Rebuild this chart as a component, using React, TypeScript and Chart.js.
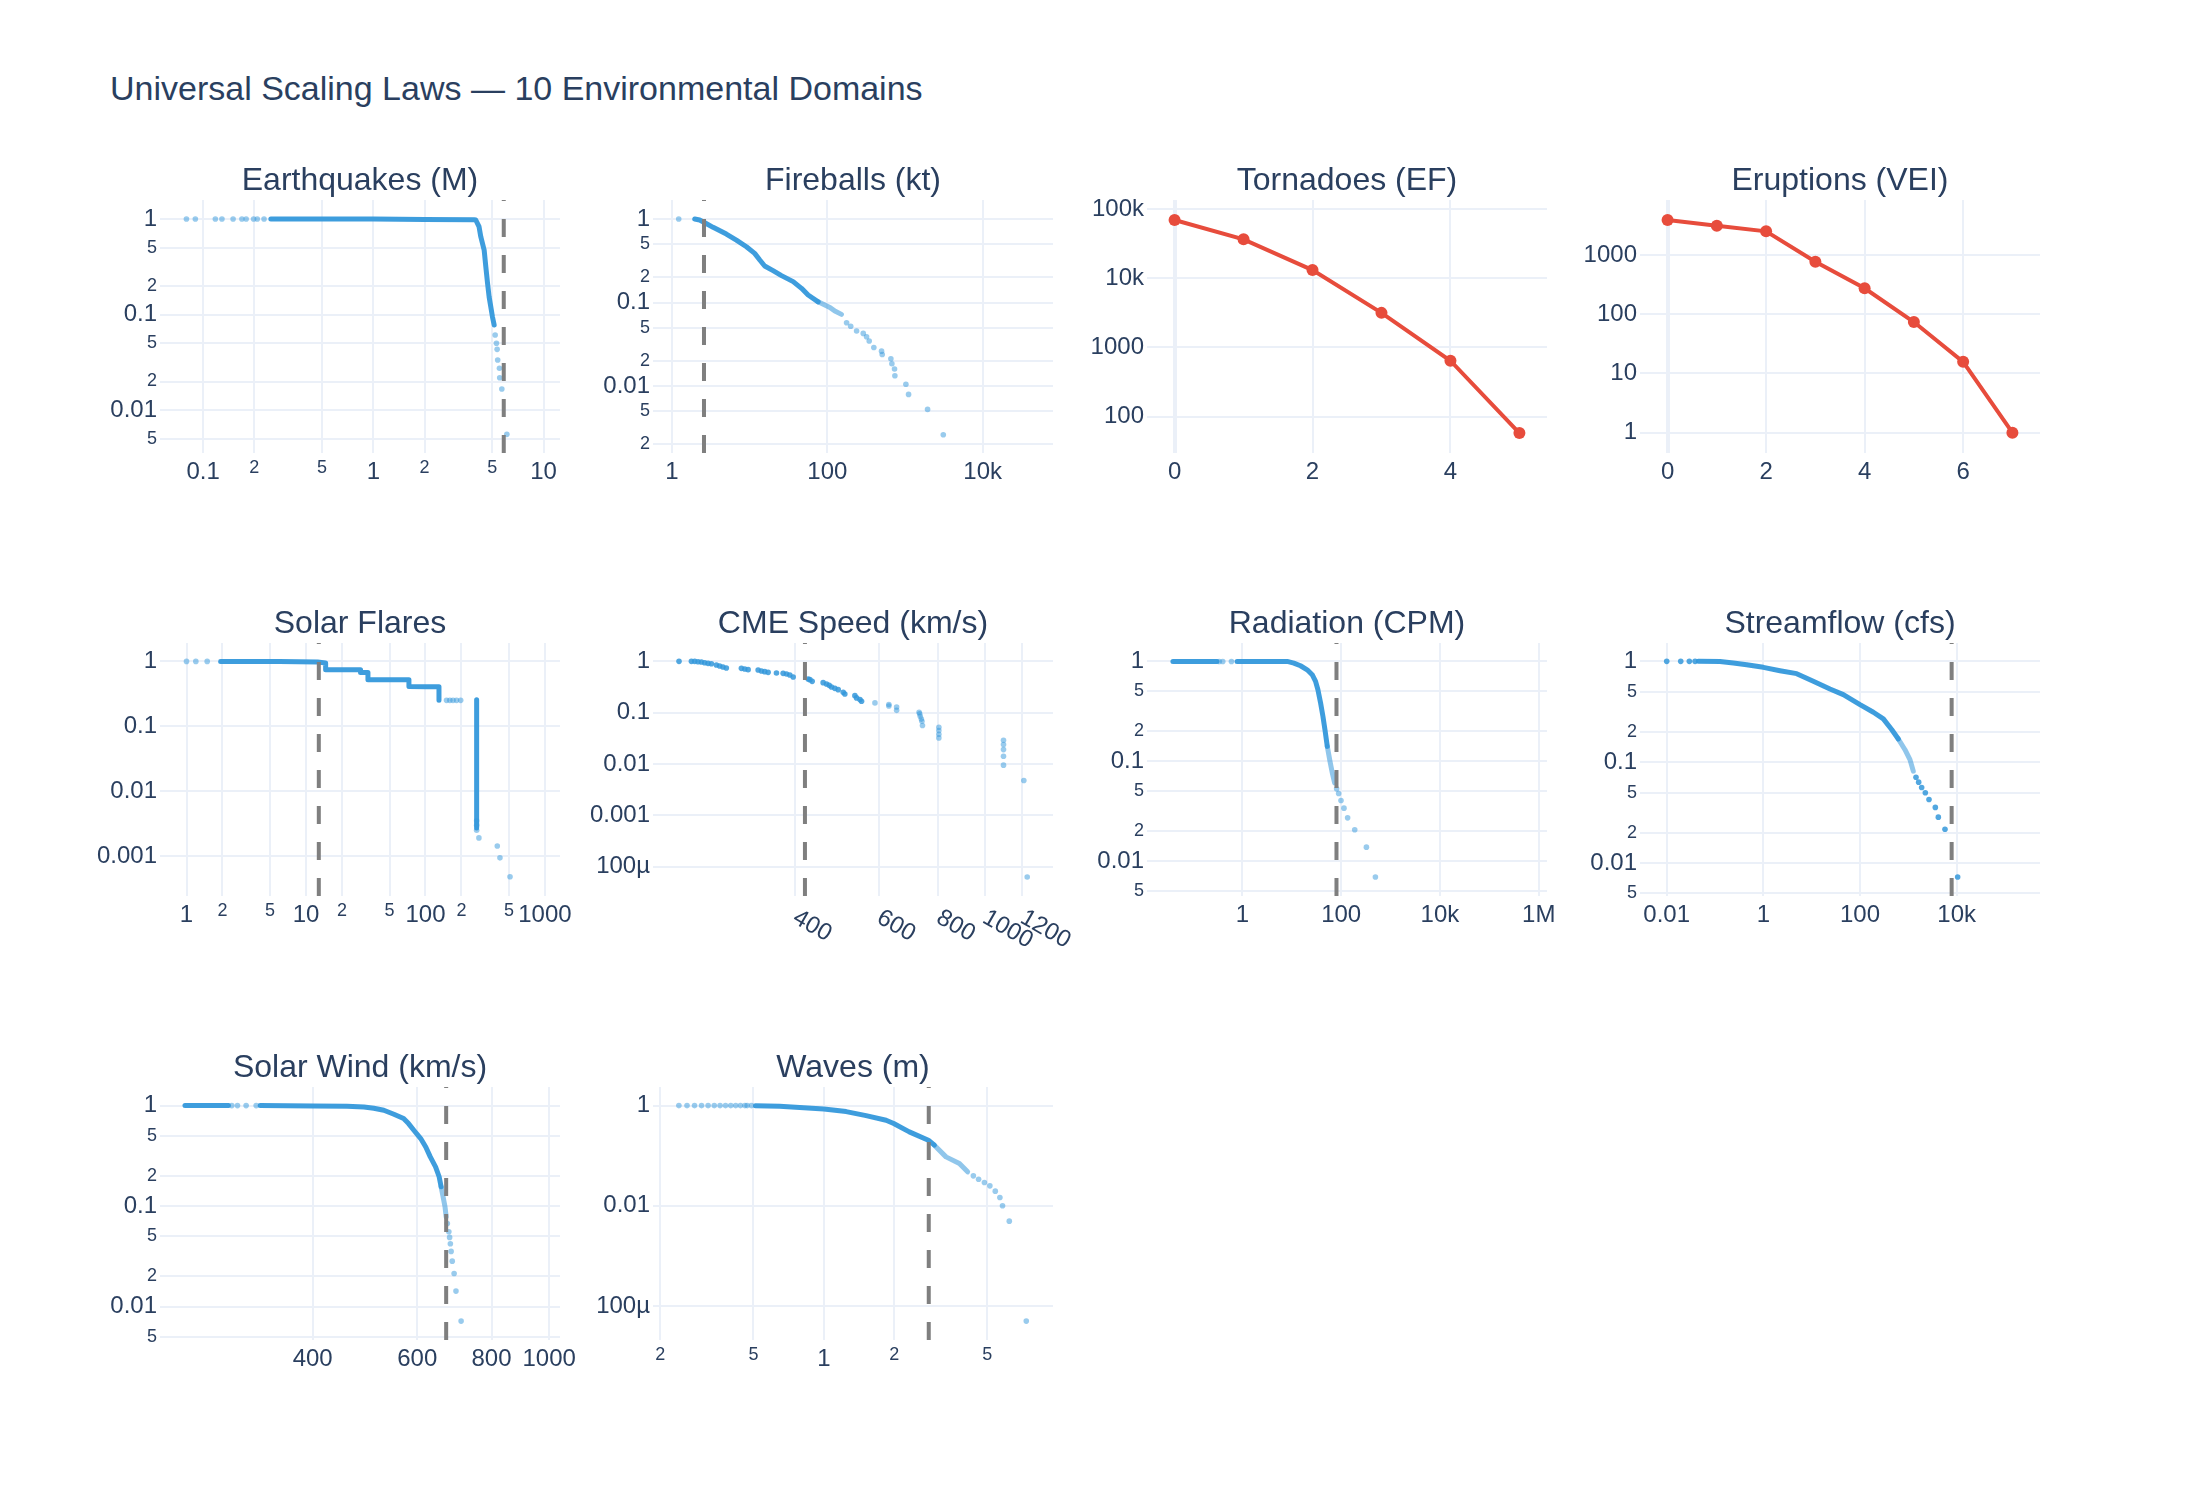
import React, { useEffect, useRef } from 'react';
import { Chart, registerables } from 'chart.js';

Chart.register(...registerables);

// ---------------- data ----------------
// Earthquakes (M)
const quakeLineX = [0.25, 0.5, 1, 2, 3.9, 4.0, 4.18, 4.28, 4.48, 4.58, 4.69, 4.79, 4.9, 5.01, 5.13];
const quakeLineY = [1, 1, 0.998, 0.99, 0.985, 0.976, 0.831, 0.653, 0.474, 0.318, 0.213, 0.154, 0.121, 0.0953, 0.078];
const quakeDotX = [0.0798, 0.09, 0.118, 0.129, 0.15, 0.169, 0.179, 0.198, 0.208, 0.228, 5.2, 5.29, 5.34, 5.38, 5.51, 5.53, 5.69, 6.09];
const quakeDotY = [1, 1, 1, 1, 1, 1, 1, 1, 1, 1, 0.0613, 0.0502, 0.0434, 0.0336, 0.0275, 0.0219, 0.0167, 0.00561];
const quakeCutoff = 5.84;
const quakeXTicks = [0.1, 0.2, 0.5, 1, 2, 5, 10];
const quakeXLabels = ['0.1', '2', '5', '1', '2', '5', '10'];
const quakeYTicks = [1, 0.5, 0.2, 0.1, 0.05, 0.02, 0.01, 0.005];
const quakeYLabels = ['1', '5', '2', '0.1', '5', '2', '0.01', '5'];

// Fireballs (kt)
const fireLineX = [1.96, 2.27, 2.64, 3.38, 5.01, 6.74, 9.08, 11.6, 13.5, 15.6, 20.0, 25.7, 36.3, 46.5, 56.6, 76.2, 108, 125, 152];
const fireLineY = [1, 0.973, 0.904, 0.795, 0.661, 0.56, 0.466, 0.388, 0.323, 0.274, 0.241, 0.21, 0.178, 0.148, 0.123, 0.102, 0.0875, 0.0791, 0.0722];
const fireDotX = [1.22, 177, 200, 238, 290, 320, 346, 397, 499, 509, 658, 678, 733, 741, 1027, 1112, 1954, 3112];
const fireDotY = [1, 0.0573, 0.052, 0.0456, 0.0427, 0.039, 0.0346, 0.029, 0.0262, 0.0239, 0.0212, 0.0185, 0.016, 0.0133, 0.0105, 0.00795, 0.00526, 0.00261];
const fireCutoff = 2.58;
const fireXTicks = [1, 100, 10000];
const fireXLabels = ['1', '100', '10k'];
const fireYTicks = [1, 0.5, 0.2, 0.1, 0.05, 0.02, 0.01, 0.005, 0.002];
const fireYLabels = ['1', '5', '2', '0.1', '5', '2', '0.01', '5', '2'];

// Tornadoes (EF)
const tornadoX = [0, 1, 2, 3, 4, 5];
const tornadoY = [69300, 36500, 13100, 3160, 643, 58];
const tornadoXTicks = [0, 2, 4];
const tornadoXLabels = ['0', '2', '4'];
const tornadoYTicks = [100, 1000, 10000, 100000];
const tornadoYLabels = ['100', '1000', '10k', '100k'];

// Eruptions (VEI)
const eruptX = [0, 1, 2, 3, 4, 5, 6, 7];
const eruptY = [3900, 3125, 2513, 771, 274, 74, 15.7, 1];
const eruptXTicks = [0, 2, 4, 6];
const eruptXLabels = ['0', '2', '4', '6'];
const eruptYTicks = [1, 10, 100, 1000];
const eruptYLabels = ['1', '10', '100', '1000'];

// Solar Flares
const flareStepX = [1.93, 6, 12.5, 14.6, 14.6, 28.6, 28.6, 33, 33, 72.7, 72.7, 103, 129.7, 129.7];
const flareStepY = [1, 0.995, 0.975, 0.943, 0.744, 0.744, 0.677, 0.677, 0.522, 0.522, 0.412, 0.405, 0.405, 0.251];
const flareDropX = [268, 268];
const flareDropY = [0.257, 0.0027];
const flareDotX = [1, 1.197, 1.49, 150, 160, 170, 182, 197, 268, 268, 268, 280, 399, 420, 510];
const flareDotY = [1, 1, 1, 0.251, 0.251, 0.251, 0.251, 0.251, 0.0035, 0.003, 0.0025, 0.00191, 0.00143, 0.00094, 0.00048];
const flareCutoff = 12.8;
const flareXTicks = [1, 2, 5, 10, 20, 50, 100, 200, 500, 1000];
const flareXLabels = ['1', '2', '5', '10', '2', '5', '100', '2', '5', '1000'];
const flareYTicks = [1, 0.1, 0.01, 0.001];
const flareYLabels = ['1', '0.1', '0.01', '0.001'];

// CME Speed (km/s)
const cmeHeadX = [228.6, 242.7, 246.6, 250.6, 254.7, 258.8, 263.0, 267.3, 273.8, 278.2, 282.7, 287.3, 309.0, 314.1, 319.2, 335.0, 340.4, 345.9, 351.6, 366.0, 378.0, 384.2, 390.4, 396.8, 426.6, 430.1, 434.9, 458.6, 466.1, 472.2, 477.5, 485.3, 493.2, 505.3, 509.3, 534.6, 538.9, 547.8, 552.1];
const cmeHeadY = [1, 1, 1, 0.985, 0.971, 0.942, 0.914, 0.901, 0.849, 0.811, 0.776, 0.742, 0.731, 0.709, 0.689, 0.678, 0.649, 0.63, 0.611, 0.593, 0.584, 0.567, 0.542, 0.496, 0.453, 0.44, 0.408, 0.385, 0.362, 0.341, 0.317, 0.298, 0.281, 0.249, 0.232, 0.215, 0.194, 0.18, 0.167];
const cmeTailX = [589, 630, 630, 654, 654, 729, 731, 733, 737, 739, 741, 802, 802, 802, 802, 1096, 1096, 1096, 1096, 1096, 1209, 1229];
const cmeTailY = [0.155, 0.144, 0.135, 0.129, 0.111, 0.102, 0.095, 0.0851, 0.075, 0.068, 0.0561, 0.052, 0.045, 0.038, 0.0323, 0.0291, 0.024, 0.0191, 0.0142, 0.0095, 0.00478, 0.000063];
const cmeCutoff = 420;
const cmeXTicks = [400, 600, 800, 1000, 1200];
const cmeXLabels = ['400', '600', '800', '1000', '1200'];
const cmeYTicks = [1, 0.1, 0.01, 0.001, 0.0001];
const cmeYLabels = ['1', '0.1', '0.01', '0.001', '100µ'];

// Radiation (CPM)
const radLineAX = [0.0392, 0.1, 0.2, 0.306];
const radLineAY = [1, 1, 1, 1];
const radLineBX = [0.78, 2, 5, 8.07, 11.0, 15.0, 20.5, 25.9, 30.3, 33.8, 38.3, 42.7, 46.9, 52.3, 59.3, 66.1, 73.7];
const radLineBY = [1, 1, 1, 1, 0.962, 0.905, 0.825, 0.736, 0.631, 0.521, 0.383, 0.282, 0.207, 0.141, 0.1, 0.0764, 0.0607];
const radDotX = [0.34, 0.4, 0.6, 80.9, 88.9, 99.1, 114, 135, 188, 324, 493];
const radDotY = [1, 1, 1, 0.0529, 0.0475, 0.0404, 0.0339, 0.0271, 0.0206, 0.0138, 0.00692];
const radCutoff = 80.3;
const radXTicks = [1, 100, 10000, 1000000];
const radXLabels = ['1', '100', '10k', '1M'];
const radYTicks = [1, 0.5, 0.2, 0.1, 0.05, 0.02, 0.01, 0.005];
const radYLabels = ['1', '5', '2', '0.1', '5', '2', '0.01', '5'];

// Streamflow (cfs)
const streamLineX = [0.045, 0.127, 0.239, 0.452, 1.0, 2.21, 4.9, 10.8, 23.9, 45.2, 100, 189, 304, 452, 621, 853, 1082, 1268];
const streamLineY = [1, 0.997, 0.963, 0.927, 0.872, 0.808, 0.755, 0.634, 0.532, 0.468, 0.372, 0.313, 0.269, 0.211, 0.17, 0.133, 0.106, 0.0815];
const streamDotX = [0.01, 0.0195, 0.0294, 0.0386, 1441, 1637, 1888, 2249, 2679, 3622, 4178, 5740, 10500];
const streamDotY = [1, 1, 1, 1, 0.071, 0.0634, 0.0561, 0.0497, 0.0427, 0.0356, 0.0285, 0.0216, 0.00727];
const streamCutoff = 7880;
const streamXTicks = [0.01, 1, 100, 10000];
const streamXLabels = ['0.01', '1', '100', '10k'];
const streamYTicks = [1, 0.5, 0.2, 0.1, 0.05, 0.02, 0.01, 0.005];
const streamYLabels = ['1', '5', '2', '0.1', '5', '2', '0.01', '5'];

// Solar Wind (km/s)
const windLineAX = [243.9, 265, 288.6];
const windLineAY = [1, 1, 1];
const windLineBX = [326.4, 401.5, 457, 488, 507, 527, 548, 569, 580, 592, 608, 620, 631, 644, 653, 658, 663, 668, 671];
const windLineBY = [1, 0.992, 0.985, 0.97, 0.941, 0.899, 0.82, 0.743, 0.662, 0.569, 0.47, 0.388, 0.309, 0.246, 0.196, 0.156, 0.124, 0.0985, 0.0783];
const windDotX = [292.4, 298.9, 309.1, 321.4, 674, 678, 680, 682, 684, 687, 692, 697, 711];
const windDotY = [1, 1, 1, 1, 0.0673, 0.0556, 0.0489, 0.0423, 0.0355, 0.0284, 0.0214, 0.0143, 0.0072];
const windCutoff = 671;
const windXTicks = [400, 600, 800, 1000];
const windXLabels = ['400', '600', '800', '1000'];
const windYTicks = [1, 0.5, 0.2, 0.1, 0.05, 0.02, 0.01, 0.005];
const windYLabels = ['1', '5', '2', '0.1', '5', '2', '0.01', '5'];

// Waves (m)
const waveLineX = [0.51, 0.647, 1.0, 1.246, 1.516, 1.846, 1.99, 2.32, 2.8, 2.97, 3.33, 3.8, 4.12];
const waveLineY = [0.995, 0.97, 0.858, 0.759, 0.632, 0.51, 0.438, 0.299, 0.204, 0.162, 0.0948, 0.0698, 0.0476];
const waveDotX = [0.24, 0.26, 0.28, 0.3, 0.32, 0.34, 0.36, 0.38, 0.4, 0.42, 0.44, 0.46, 0.47, 0.49, 4.36, 4.59, 4.86, 5.13, 5.41, 5.66, 5.81, 6.21, 7.34];
const waveDotY = [1, 1, 1, 1, 1, 1, 1, 1, 1, 1, 1, 1, 1, 1, 0.0396, 0.034, 0.0292, 0.025, 0.0196, 0.0147, 0.01, 0.00494, 0.00005];
const waveCutoff = 2.81;
const waveXTicks = [0.2, 0.5, 1, 2, 5];
const waveXLabels = ['2', '5', '1', '2', '5'];
const waveYTicks = [1, 0.01, 0.0001];
const waveYLabels = ['1', '0.01', '100µ'];

// ---------------- styling / layout ----------------
const FONT = '"Liberation Sans", Arial, Helvetica, sans-serif';
const INK = '#2a3f5f';
const GRID = '#ebf0f8';
const DOT = 'rgba(52,152,219,0.5)';
const DOT_DARK = 'rgba(52,152,219,0.85)';
const LINE = 'rgba(52,152,219,0.95)';
const LINE_FADE = 'rgba(52,152,219,0.55)';
const RED = '#e74c3c';
const DASH = '#7f7f7f';

const PLOT_W = 400;
const PLOT_H = 253;
const COL_X = [160, 653, 1147, 1640];
const ROW_Y = [200, 643, 1087];
const PAD_L = 110;
const PAD_T = 60;
const PAD_R = 45;
const PAD_B = 80;

const pts = (xs: number[], ys: number[]) => xs.map((x, i) => ({ x, y: ys[i] }));

const lineDs = (xs: number[], ys: number[], fadeBelow?: number) => {
  const ds: any = {
    data: pts(xs, ys),
    showLine: true,
    borderColor: LINE,
    borderWidth: 5,
    pointRadius: 0,
    borderCapStyle: 'round',
    borderJoinStyle: 'round',
    fill: false,
  };
  if (fadeBelow !== undefined) {
    ds.segment = { borderColor: (c: any) => (c.p1.parsed.y < fadeBelow ? LINE_FADE : LINE) };
  }
  return ds;
};

const dotDs = (xs: number[], ys: number[], color: string = DOT) => ({
  data: pts(xs, ys),
  showLine: false,
  pointRadius: 2.8,
  pointBackgroundColor: color,
  pointBorderWidth: 0,
});

const redDs = (xs: number[], ys: number[]) => ({
  data: pts(xs, ys),
  showLine: true,
  borderColor: RED,
  borderWidth: 4,
  pointRadius: 6,
  pointBackgroundColor: RED,
  pointBorderWidth: 0,
});

type Spec = {
  title: string;
  col: number;
  row: number;
  xType: 'logarithmic' | 'linear';
  xMin: number; xMax: number; yMin: number; yMax: number;
  xTicks: number[]; xLabels: string[]; xD: boolean;
  yTicks: number[]; yLabels: string[]; yD: boolean;
  datasets: any[];
  cutoff?: number;
  rotateX?: boolean;
  zeroLine?: boolean;
};

const isPow10 = (v: number) => {
  const l = Math.log10(v);
  return Math.abs(l - Math.round(l)) < 1e-6;
};

const SPECS: Spec[] = [
  {
    title: 'Earthquakes (M)', col: 0, row: 0, xType: 'logarithmic',
    xMin: 0.0558, xMax: 12.5, yMin: 0.00358, yMax: 1.58,
    xTicks: quakeXTicks, xLabels: quakeXLabels, xD: true,
    yTicks: quakeYTicks, yLabels: quakeYLabels, yD: true,
    datasets: [lineDs(quakeLineX, quakeLineY), dotDs(quakeDotX, quakeDotY)],
    cutoff: quakeCutoff,
  },
  {
    title: 'Fireballs (kt)', col: 1, row: 0, xType: 'logarithmic',
    xMin: 0.569, xMax: 80500, yMin: 0.00158, yMax: 1.69,
    xTicks: fireXTicks, xLabels: fireXLabels, xD: false,
    yTicks: fireYTicks, yLabels: fireYLabels, yD: true,
    datasets: [lineDs(fireLineX, fireLineY, 0.1), dotDs(fireDotX, fireDotY)],
    cutoff: fireCutoff,
  },
  {
    title: 'Tornadoes (EF)', col: 2, row: 0, xType: 'linear',
    xMin: -0.4, xMax: 5.4, yMin: 29.9, yMax: 134900,
    xTicks: tornadoXTicks, xLabels: tornadoXLabels, xD: false,
    yTicks: tornadoYTicks, yLabels: tornadoYLabels, yD: false,
    datasets: [redDs(tornadoX, tornadoY)],
    zeroLine: true,
  },
  {
    title: 'Eruptions (VEI)', col: 3, row: 0, xType: 'linear',
    xMin: -0.56, xMax: 7.56, yMin: 0.454, yMax: 8490,
    xTicks: eruptXTicks, xLabels: eruptXLabels, xD: false,
    yTicks: eruptYTicks, yLabels: eruptYLabels, yD: false,
    datasets: [redDs(eruptX, eruptY)],
    zeroLine: true,
  },
  {
    title: 'Solar Flares', col: 0, row: 1, xType: 'logarithmic',
    xMin: 0.605, xMax: 1336, yMin: 0.000243, yMax: 1.92,
    xTicks: flareXTicks, xLabels: flareXLabels, xD: true,
    yTicks: flareYTicks, yLabels: flareYLabels, yD: false,
    datasets: [lineDs(flareStepX, flareStepY), lineDs(flareDropX, flareDropY), dotDs(flareDotX, flareDotY)],
    cutoff: flareCutoff,
  },
  {
    title: 'CME Speed (km/s)', col: 1, row: 1, xType: 'logarithmic',
    xMin: 201.6, xMax: 1392, yMin: 0.0000268, yMax: 2.28,
    xTicks: cmeXTicks, xLabels: cmeXLabels, xD: false,
    yTicks: cmeYTicks, yLabels: cmeYLabels, yD: false,
    datasets: [dotDs(cmeHeadX, cmeHeadY, DOT_DARK), dotDs(cmeTailX, cmeTailY)],
    cutoff: cmeCutoff,
    rotateX: true,
  },
  {
    title: 'Radiation (CPM)', col: 2, row: 1, xType: 'logarithmic',
    xMin: 0.0117, xMax: 1470000, yMin: 0.00447, yMax: 1.53,
    xTicks: radXTicks, xLabels: radXLabels, xD: false,
    yTicks: radYTicks, yLabels: radYLabels, yD: true,
    datasets: [lineDs(radLineAX, radLineAY), lineDs(radLineBX, radLineBY, 0.13), dotDs(radDotX, radDotY)],
    cutoff: radCutoff,
  },
  {
    title: 'Streamflow (cfs)', col: 3, row: 1, xType: 'logarithmic',
    xMin: 0.0028, xMax: 531000, yMin: 0.00471, yMax: 1.52,
    xTicks: streamXTicks, xLabels: streamXLabels, xD: false,
    yTicks: streamYTicks, yLabels: streamYLabels, yD: true,
    datasets: [lineDs(streamLineX, streamLineY, 0.16), dotDs(streamDotX, streamDotY, DOT_DARK)],
    cutoff: streamCutoff,
  },
  {
    title: 'Solar Wind (km/s)', col: 0, row: 2, xType: 'logarithmic',
    xMin: 221.4, xMax: 1043, yMin: 0.00467, yMax: 1.53,
    xTicks: windXTicks, xLabels: windXLabels, xD: false,
    yTicks: windYTicks, yLabels: windYLabels, yD: true,
    datasets: [lineDs(windLineAX, windLineAY), lineDs(windLineBX, windLineBY, 0.15), dotDs(windDotX, windDotY)],
    cutoff: windCutoff,
  },
  {
    title: 'Waves (m)', col: 1, row: 2, xType: 'logarithmic',
    xMin: 0.186, xMax: 9.55, yMin: 0.000021, yMax: 2.35,
    xTicks: waveXTicks, xLabels: waveXLabels, xD: true,
    yTicks: waveYTicks, yLabels: waveYLabels, yD: false,
    datasets: [lineDs(waveLineX, waveLineY, 0.15), dotDs(waveDotX, waveDotY)],
    cutoff: waveCutoff,
  },
];

function buildConfig(spec: Spec): any {
  const smallX = (c: any) => spec.xD && c.tick && !isPow10(c.tick.value);
  const smallY = (c: any) => spec.yD && c.tick && !isPow10(c.tick.value);
  return {
    type: 'scatter',
    data: { datasets: spec.datasets },
    options: {
      animation: false,
      responsive: false,
      maintainAspectRatio: false,
      events: [],
      layout: { padding: { left: 0, top: PAD_T, right: PAD_R, bottom: 0 } },
      plugins: { legend: { display: false }, tooltip: { enabled: false }, title: { display: false } },
      scales: {
        x: {
          type: spec.xType,
          min: spec.xMin,
          max: spec.xMax,
          afterBuildTicks: (s: any) => { s.ticks = spec.xTicks.map((v) => ({ value: v })); },
          afterFit: (s: any) => { s.height = PAD_B; },
          grid: {
            color: GRID,
            lineWidth: (c: any) => (spec.zeroLine && c.tick && c.tick.value === 0 ? 4 : 2),
            drawTicks: false,
          },
          border: { display: false },
          ticks: {
            display: !spec.rotateX,
            autoSkip: false,
            maxRotation: 0,
            minRotation: 0,
            padding: 4.5,
            color: INK,
            font: (c: any) => ({ family: FONT, size: smallX(c) ? 18 : 24 }),
            callback: (_v: any, i: number) => spec.xLabels[i],
          },
        },
        y: {
          type: 'logarithmic',
          min: spec.yMin,
          max: spec.yMax,
          afterBuildTicks: (s: any) => { s.ticks = spec.yTicks.map((v) => ({ value: v })); },
          afterFit: (s: any) => { s.width = PAD_L; },
          grid: { color: GRID, lineWidth: 2, drawTicks: false },
          border: { display: false },
          ticks: {
            autoSkip: false,
            padding: 3,
            color: INK,
            font: (c: any) => ({ family: FONT, size: smallY(c) ? 18 : 24 }),
            callback: (_v: any, i: number) => spec.yLabels[i],
          },
        },
      },
    },
    plugins: [
      {
        id: 'panelDeco',
        afterDatasetsDraw(chart: any) {
          if (spec.cutoff === undefined) return;
          const { ctx, chartArea: a, scales } = chart;
          const x = scales.x.getPixelForValue(spec.cutoff);
          ctx.save();
          ctx.beginPath();
          ctx.setLineDash([18, 18]);
          ctx.lineWidth = 4;
          ctx.strokeStyle = DASH;
          ctx.moveTo(x, a.bottom);
          ctx.lineTo(x, a.top);
          ctx.stroke();
          ctx.restore();
        },
        afterDraw(chart: any) {
          const { ctx, chartArea: a, scales } = chart;
          ctx.save();
          ctx.fillStyle = INK;
          ctx.font = `32px ${FONT}`;
          ctx.textAlign = 'center';
          ctx.textBaseline = 'alphabetic';
          ctx.fillText(spec.title, (a.left + a.right) / 2, a.top - 10);
          if (spec.rotateX) {
            ctx.font = `24px ${FONT}`;
            ctx.textAlign = 'left';
            ctx.textBaseline = 'middle';
            spec.xTicks.forEach((v, i) => {
              const px = scales.x.getPixelForValue(v);
              ctx.save();
              ctx.translate(px, a.bottom + 20);
              ctx.rotate(Math.PI / 6);
              ctx.fillText(spec.xLabels[i], 0, 0);
              ctx.restore();
            });
          }
          ctx.restore();
        },
      },
    ],
  };
}

function Panel({ spec }: { spec: Spec }) {
  const ref = useRef<HTMLCanvasElement>(null);
  const w = PAD_L + PLOT_W + PAD_R;
  const h = PAD_T + PLOT_H + PAD_B;
  useEffect(() => {
    const chart = new Chart(ref.current as HTMLCanvasElement, buildConfig(spec));
    return () => chart.destroy();
  }, [spec]);
  return (
    <canvas
      ref={ref}
      width={w}
      height={h}
      style={{ position: 'absolute', left: COL_X[spec.col] - PAD_L, top: ROW_Y[spec.row] - PAD_T, width: w, height: h }}
    />
  );
}

export default function App() {
  return (
    <div style={{ position: 'absolute', left: 0, top: 0, width: 2200, height: 1500, background: '#ffffff', overflow: 'hidden' }}>
      <div
        style={{
          position: 'absolute',
          left: 110,
          top: 71.4,
          fontFamily: FONT,
          fontSize: 34,
          lineHeight: 1,
          color: INK,
          whiteSpace: 'nowrap',
        }}
      >
        Universal Scaling Laws — 10 Environmental Domains
      </div>
      {SPECS.map((s) => (
        <Panel key={s.title} spec={s} />
      ))}
    </div>
  );
}
